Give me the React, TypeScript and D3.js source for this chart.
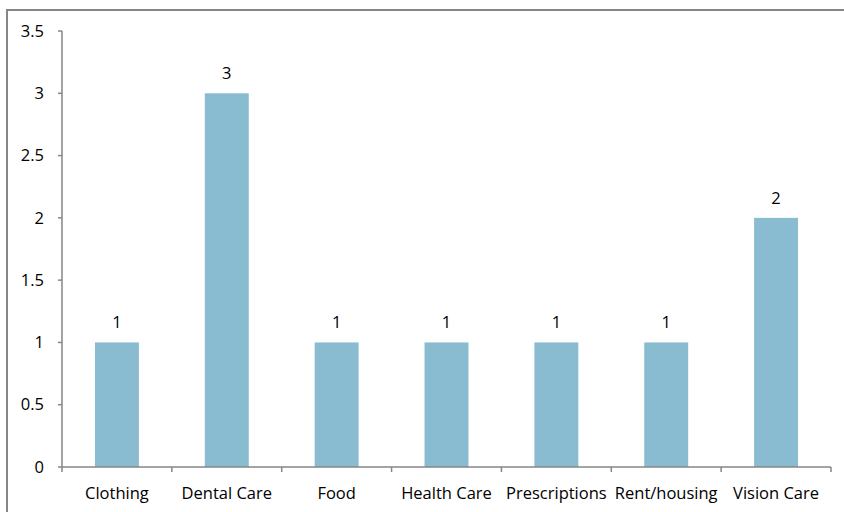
import React from "react";
import * as d3 from "d3";

const categories = ["Clothing", "Dental Care", "Food", "Health Care", "Prescriptions", "Rent/housing", "Vision Care"];
const values = [1, 3, 1, 1, 1, 1, 2];
const yTicks = [0, 0.5, 1, 1.5, 2, 2.5, 3, 3.5];

export default function App() {
  const W = 844, H = 512;
  const left = 62, right = 831, top = 31, bottom = 467;
  const x = d3.scaleBand<string>().domain(categories).range([left, right]).paddingInner(0.6).paddingOuter(0.3);
  const xb = d3.scaleBand<string>().domain(categories).range([left, right]);
  const y = d3.scaleLinear().domain([0, 3.5]).range([bottom, top]);
  const font = "'Open Sans', sans-serif";
  const axisColor = "#868686";
  const fs = 16.5;
  return (
    <svg width={W} height={H} style={{ position: "absolute", left: 0, top: 0 }} fontFamily={font}>
      <rect x={0} y={0} width={W} height={H} fill="#fff" />
      <rect x={7} y={10} width={W + 10} height={H + 10} fill="none" stroke={axisColor} strokeWidth={2} />
      {categories.map((c, i) => (
        <rect key={c} x={x(c)!} y={y(values[i])} width={x.bandwidth()} height={bottom - y(values[i])} fill="#89BBD1" />
      ))}
      {categories.map((c, i) => (
        <text key={"l" + c} x={x(c)! + x.bandwidth() / 2} y={y(values[i]) - 20} dy="0.35em" textAnchor="middle" fontSize={fs} fill="#000">
          {values[i]}
        </text>
      ))}
      <line x1={left} x2={left} y1={top} y2={bottom} stroke={axisColor} strokeWidth={1.5} />
      {yTicks.map((t) => (
        <g key={"y" + t}>
          <line x1={left - 4} x2={left} y1={y(t)} y2={y(t)} stroke={axisColor} strokeWidth={1.5} />
          <text x={44} y={y(t)} dy="0.35em" textAnchor="end" fontSize={fs} fill="#000">
            {t}
          </text>
        </g>
      ))}
      <line x1={left} x2={right} y1={bottom} y2={bottom} stroke={axisColor} strokeWidth={1.5} />
      {[...categories.map((c) => xb(c)!), right].map((xv, i) => (
        <line key={"xt" + i} x1={xv} x2={xv} y1={bottom} y2={bottom + 5} stroke={axisColor} strokeWidth={1.5} />
      ))}
      {categories.map((c) => (
        <text key={"xl" + c} x={xb(c)! + xb.bandwidth() / 2} y={493} dy="0.35em" textAnchor="middle" fontSize={fs} fill="#000">
          {c}
        </text>
      ))}
    </svg>
  );
}
